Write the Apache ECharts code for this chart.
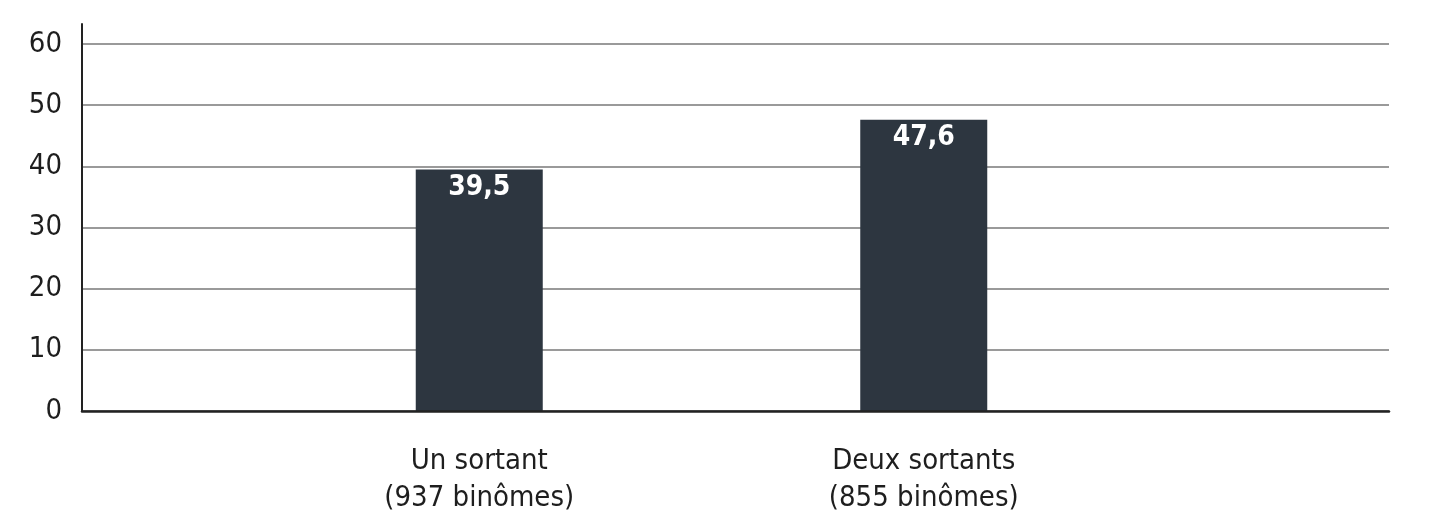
<!DOCTYPE html>
<html>
<head>
<meta charset="utf-8">
<script src="https://cdn.jsdelivr.net/npm/echarts@6/dist/echarts.min.js"></script>
<style>
html,body{margin:0;padding:0;background:#fff;}
#chart{width:1445px;height:526px;}
</style>
</head>
<body>
<div id="chart"></div>
<script>
const categories = ['Un sortant\n(937 binômes)', 'Deux sortants\n(855 binômes)'];
const values = [39.5, 47.6];
const yTicks = { min: 0, max: 60, interval: 10 };

const axisFont = "'DejaVu Sans Condensed', sans-serif";
const labelFont = "'DejaVu Sans Condensed', sans-serif";

const chart = echarts.init(document.getElementById('chart'), null, { renderer: 'canvas' });
chart.setOption({
  animation: false,
  backgroundColor: '#ffffff',
  grid: [
    { left: 82, right: 56, top: 24, bottom: 115 },
    { left: 82, right: 56, top: 44, bottom: 115 },
    { left: 257, right: 299, top: 44, bottom: 115 }
  ],
  xAxis: [
    { gridIndex: 0, type: 'category', data: [''], show: false },
    {
      gridIndex: 1, type: 'category', data: [''], z: 5,
      axisLine: { show: true, lineStyle: { color: '#222222', width: 2.5 } },
      axisTick: { show: false }, axisLabel: { show: false }, splitLine: { show: false }
    },
    {
      gridIndex: 2, type: 'category', data: categories,
      axisLine: { show: false }, axisTick: { show: false },
      axisLabel: {
        margin: 32, color: '#1e1e1e', fontSize: 29, lineHeight: 37,
        fontFamily: axisFont
      }
    }
  ],
  yAxis: [
    {
      gridIndex: 0, type: 'value', min: 0, max: 1,
      axisLine: { show: true, lineStyle: { color: '#222222', width: 2 } },
      axisTick: { show: false }, axisLabel: { show: false }, splitLine: { show: false }
    },
    {
      gridIndex: 1, type: 'value', min: yTicks.min, max: yTicks.max, interval: yTicks.interval,
      axisLine: { show: false }, axisTick: { show: false },
      axisLabel: { margin: 20, color: '#1e1e1e', fontSize: 29, fontFamily: axisFont },
      splitLine: { show: true, lineStyle: { color: '#9a9a9a', width: 2 } }
    },
    {
      gridIndex: 2, type: 'value', min: yTicks.min, max: yTicks.max, interval: yTicks.interval,
      show: false, splitLine: { show: false }
    }
  ],
  series: [{
    type: 'bar',
    xAxisIndex: 2,
    yAxisIndex: 2,
    data: values,
    barWidth: 127,
    itemStyle: { color: '#2d3640' },
    label: {
      show: true,
      position: 'insideTop',
      distance: 3,
      color: '#ffffff',
      fontSize: 28,
      fontWeight: 'bold',
      fontFamily: labelFont,
      lineHeight: 30,
      formatter: p => String(p.value).replace('.', ',')
    }
  }]
});
</script>
</body>
</html>
